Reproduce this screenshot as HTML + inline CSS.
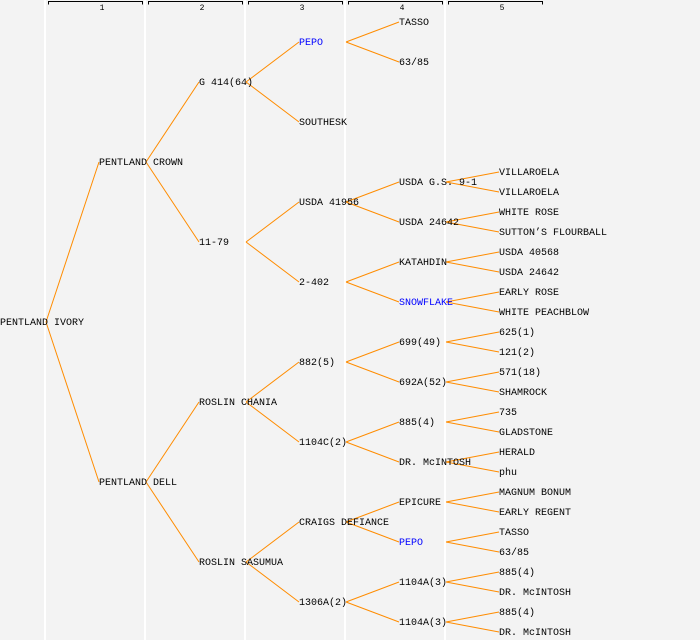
<!DOCTYPE html>
<html><head><meta charset="utf-8"><style>
html,body{margin:0;padding:0;background:#f3f3f3;}
svg{display:block;}
text{font-family:"Liberation Mono","DejaVu Sans Mono",monospace;font-size:10px;fill:#000;}
</style></head><body>
<svg width="700" height="640" xmlns="http://www.w3.org/2000/svg">
<rect width="700" height="640" fill="#f3f3f3"/>
<g fill="#ffffff">
<rect x="44" y="0" width="2" height="640"/><rect x="144" y="0" width="2" height="640"/>
<rect x="244" y="0" width="2" height="640"/><rect x="344" y="0" width="2" height="640"/>
<rect x="444" y="0" width="2" height="640"/>
</g>
<g stroke="#000" fill="none" stroke-width="1">
<path d="M48.5 4.5V1.5H142.5V4.5"/><path d="M148.5 4.5V1.5H242.5V4.5"/><path d="M248.5 4.5V1.5H342.5V4.5"/><path d="M348.5 4.5V1.5H442.5V4.5"/><path d="M448.5 4.5V1.5H542.5V4.5"/>
</g>
<g><text x="102" y="10" text-anchor="middle" style="font-size:8px">1</text><text x="202" y="10" text-anchor="middle" style="font-size:8px">2</text><text x="302" y="10" text-anchor="middle" style="font-size:8px">3</text><text x="402" y="10" text-anchor="middle" style="font-size:8px">4</text><text x="502" y="10" text-anchor="middle" style="font-size:8px">5</text></g>
<g stroke="#ff8c00" stroke-width="1" fill="none">
<path d="M46 322L99 162M46 322L99 482"/>
<path d="M146 162L199 82M146 162L199 242M146 482L199 402M146 482L199 562"/>
<path d="M246 82L299 42M246 82L299 122M246 242L299 202M246 242L299 282M246 402L299 362M246 402L299 442M246 562L299 522M246 562L299 602"/>
<path d="M346 42L399 22M346 42L399 62M346 202L399 182M346 202L399 222M346 282L399 262M346 282L399 302M346 362L399 342M346 362L399 382M346 442L399 422M346 442L399 462M346 522L399 502M346 522L399 542M346 602L399 582M346 602L399 622"/>
<path d="M446 182L499 172M446 182L499 192M446 222L499 212M446 222L499 232M446 262L499 252M446 262L499 272M446 302L499 292M446 302L499 312M446 342L499 332M446 342L499 352M446 382L499 372M446 382L499 392M446 422L499 412M446 422L499 432M446 462L499 452M446 462L499 472M446 502L499 492M446 502L499 512M446 542L499 532M446 542L499 552M446 582L499 572M446 582L499 592M446 622L499 612M446 622L499 632"/>
</g>
<g transform="translate(0,-1)">
<text x="0" y="326">PENTLAND IVORY</text>
<text x="99" y="166">PENTLAND CROWN</text>
<text x="99" y="486">PENTLAND DELL</text>
<text x="199" y="86">G 414(64)</text>
<text x="199" y="246">11-79</text>
<text x="199" y="406">ROSLIN CHANIA</text>
<text x="199" y="566">ROSLIN SASUMUA</text>
<text x="299" y="46" style="fill:#0000ff">PEPO</text>
<text x="299" y="126">SOUTHESK</text>
<text x="299" y="206">USDA 41956</text>
<text x="299" y="286">2-402</text>
<text x="299" y="366">882(5)</text>
<text x="299" y="446">1104C(2)</text>
<text x="299" y="526">CRAIGS DEFIANCE</text>
<text x="299" y="606">1306A(2)</text>
<text x="399" y="26">TASSO</text>
<text x="399" y="66">63/85</text>
<text x="399" y="186">USDA G.S. 9-1</text>
<text x="399" y="226">USDA 24642</text>
<text x="399" y="266">KATAHDIN</text>
<text x="399" y="306" style="fill:#0000ff">SNOWFLAKE</text>
<text x="399" y="346">699(49)</text>
<text x="399" y="386">692A(52)</text>
<text x="399" y="426">885(4)</text>
<text x="399" y="466">DR. McINTOSH</text>
<text x="399" y="506">EPICURE</text>
<text x="399" y="546" style="fill:#0000ff">PEPO</text>
<text x="399" y="586">1104A(3)</text>
<text x="399" y="626">1104A(3)</text>
<text x="499" y="176">VILLAROELA</text>
<text x="499" y="196">VILLAROELA</text>
<text x="499" y="216">WHITE ROSE</text>
<text x="499" y="236">SUTTON’S FLOURBALL</text>
<text x="499" y="256">USDA 40568</text>
<text x="499" y="276">USDA 24642</text>
<text x="499" y="296">EARLY ROSE</text>
<text x="499" y="316">WHITE PEACHBLOW</text>
<text x="499" y="336">625(1)</text>
<text x="499" y="356">121(2)</text>
<text x="499" y="376">571(18)</text>
<text x="499" y="396">SHAMROCK</text>
<text x="499" y="416">735</text>
<text x="499" y="436">GLADSTONE</text>
<text x="499" y="456">HERALD</text>
<text x="499" y="476">phu</text>
<text x="499" y="496">MAGNUM BONUM</text>
<text x="499" y="516">EARLY REGENT</text>
<text x="499" y="536">TASSO</text>
<text x="499" y="556">63/85</text>
<text x="499" y="576">885(4)</text>
<text x="499" y="596">DR. McINTOSH</text>
<text x="499" y="616">885(4)</text>
<text x="499" y="636">DR. McINTOSH</text>
</g>
</svg>
</body></html>
